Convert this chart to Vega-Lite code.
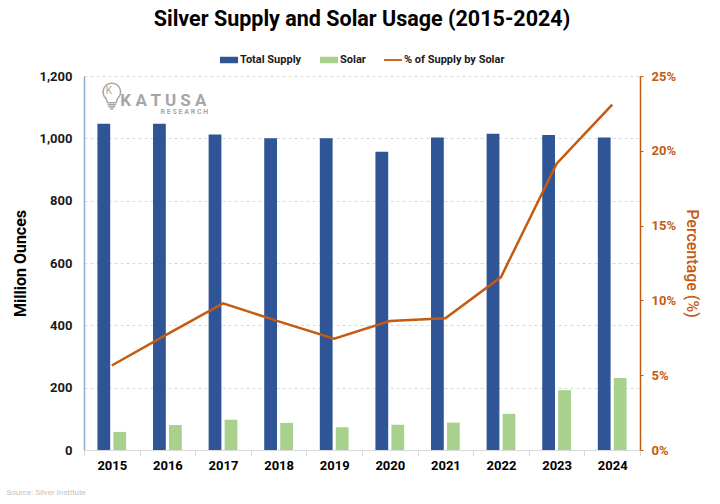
{
  "$schema": "https://vega.github.io/schema/vega-lite/v6.json",
  "width": 556,
  "height": 374,
  "padding": {"left": 6, "top": 8, "right": 14, "bottom": 6},
  "background": "#ffffff",
  "config": {
    "font": "Roboto",
    "view": {"stroke": null}
  },
  "title": {
    "text": "Silver Supply and Solar Usage (2015-2024)",
    "fontSize": 21.5,
    "fontWeight": "bold",
    "font": "Roboto",
    "color": "#000000",
    "anchor": "middle",
    "offset": 21
  },
  "datasets": {
    "bars": [
      {"year": "2015", "series": "Total Supply", "value": 1047},
      {"year": "2015", "series": "Solar", "value": 58},
      {"year": "2016", "series": "Total Supply", "value": 1047},
      {"year": "2016", "series": "Solar", "value": 80},
      {"year": "2017", "series": "Total Supply", "value": 1012},
      {"year": "2017", "series": "Solar", "value": 97},
      {"year": "2018", "series": "Total Supply", "value": 1000},
      {"year": "2018", "series": "Solar", "value": 87},
      {"year": "2019", "series": "Total Supply", "value": 1000},
      {"year": "2019", "series": "Solar", "value": 73},
      {"year": "2020", "series": "Total Supply", "value": 957},
      {"year": "2020", "series": "Solar", "value": 81},
      {"year": "2021", "series": "Total Supply", "value": 1003},
      {"year": "2021", "series": "Solar", "value": 88},
      {"year": "2022", "series": "Total Supply", "value": 1015},
      {"year": "2022", "series": "Solar", "value": 116},
      {"year": "2023", "series": "Total Supply", "value": 1011},
      {"year": "2023", "series": "Solar", "value": 192},
      {"year": "2024", "series": "Total Supply", "value": 1003},
      {"year": "2024", "series": "Solar", "value": 231}
    ],
    "pct": [
      {"year": "2015", "pct": 0.0565},
      {"year": "2016", "pct": 0.0775},
      {"year": "2017", "pct": 0.098},
      {"year": "2018", "pct": 0.086},
      {"year": "2019", "pct": 0.0744},
      {"year": "2020", "pct": 0.0862},
      {"year": "2021", "pct": 0.088},
      {"year": "2022", "pct": 0.1156},
      {"year": "2023", "pct": 0.1914},
      {"year": "2024", "pct": 0.2308}
    ],
    "logo": [
      {"year": "2015", "value": 1140, "label": "K", "part": "bulb"},
      {"year": "2016", "value": 1120, "label": "K A T U S A", "part": "name"},
      {"year": "2016", "value": 1083, "label": "R E S E A R C H", "part": "sub"}
    ]
  },
  "layer": [
    {
      "data": {"name": "bars"},
      "mark": {"type": "bar"},
      "encoding": {
        "x": {
          "field": "year",
          "type": "nominal",
          "scale": {"paddingInner": 0, "paddingOuter": 0},
          "axis": {
            "title": "Source: Silver Institute",
            "titleFontSize": 8,
            "titleFontWeight": "normal",
            "titleColor": "#BFBFBF",
            "titleAlign": "left",
            "titleAnchor": "start",
            "titleBaseline": "middle",
            "titleX": -78,
            "titleY": 42,
            "labelAngle": 0,
            "labelFontSize": 13,
            "labelFontWeight": "bold",
            "labelColor": "#000000",
            "labelPadding": 3,
            "tickBand": "extent",
            "tickColor": "#D9D9D9",
            "tickSize": 6,
            "domainColor": "#D9D9D9",
            "grid": false
          }
        },
        "xOffset": {
          "field": "series",
          "type": "nominal",
          "sort": ["Total Supply", "Solar"],
          "scale": {"domain": ["Total Supply", "Solar"], "paddingInner": 0.2, "paddingOuter": 0.84}
        },
        "y": {
          "field": "value",
          "type": "quantitative",
          "scale": {"domain": [0, 1200], "nice": false},
          "axis": {
            "title": "Million Ounces",
            "titleFontSize": 16,
            "titleFontWeight": "bold",
            "titleColor": "#000000",
            "titlePadding": 10,
            "values": [0, 200, 400, 600, 800, 1000, 1200],
            "format": ",.0f",
            "labelFontSize": 13,
            "labelFontWeight": "bold",
            "labelColor": "#1a1a1a",
            "labelPadding": 12,
            "ticks": false,
            "domainColor": "#8FAADC",
            "domainWidth": 1.5,
            "grid": true,
            "gridColor": "#D9D9D9",
            "gridDash": [3, 3]
          }
        },
        "color": {
          "field": "series",
          "type": "nominal",
          "scale": {
            "domain": ["Total Supply", "Solar", "% of Supply by Solar"],
            "range": ["#2F5597", "#A9D18E", "#C55A11"]
          },
          "legend": {
            "title": null,
            "orient": "none",
            "legendX": 136,
            "legendY": -25,
            "direction": "horizontal",
            "labelFontSize": 11,
            "labelFontWeight": "bold",
            "labelColor": "#1a1a1a",
            "labelOffset": 2,
            "columnPadding": 18,
            "symbolSize": 324,
            "encode": {
              "symbols": {
                "update": {
                  "shape": {"signal": "datum.value === '% of Supply by Solar' ? 'M-1,-0.1H1V0.1H-1Z' : 'M-1,-0.36H1V0.36H-1Z'"},
                  "strokeWidth": {"value": 0}
                }
              }
            }
          }
        }
      }
    },
    {
      "data": {"name": "logo"},
      "transform": [{"filter": "datum.part === 'bulb'"}],
      "mark": {
        "type": "point",
        "filled": false,
        "shape": "M-0.42,0.25 A0.62,0.62 0 1 1 0.42,0.25 L0.3,0.58 L-0.3,0.58 Z M-0.3,0.72 H0.3 M-0.24,0.86 H0.24 M-0.12,1 H0.12",
        "size": 784,
        "color": "#A6A6A6",
        "strokeWidth": 1.5,
        "opacity": 1,
        "dx": -3
      },
      "encoding": {
        "x": {"field": "year", "type": "nominal"},
        "y": {"field": "value", "type": "quantitative", "scale": {"domain": [0, 1200], "nice": false}, "axis": null}
      }
    },
    {
      "data": {"name": "logo"},
      "transform": [{"filter": "datum.part === 'bulb'"}],
      "mark": {"type": "text", "font": "Roboto", "fontSize": 10, "color": "#A6A6A6", "dx": -3, "dy": -4},
      "encoding": {
        "x": {"field": "year", "type": "nominal"},
        "y": {"field": "value", "type": "quantitative", "scale": {"domain": [0, 1200], "nice": false}, "axis": null},
        "text": {"field": "label"}
      }
    },
    {
      "data": {"name": "logo"},
      "transform": [{"filter": "datum.part === 'name'"}],
      "mark": {"type": "text", "font": "Roboto", "fontSize": 17, "fontWeight": "bold", "color": "#A6A6A6", "dx": -4},
      "encoding": {
        "x": {"field": "year", "type": "nominal"},
        "y": {"field": "value", "type": "quantitative", "scale": {"domain": [0, 1200], "nice": false}, "axis": null},
        "text": {"field": "label"}
      }
    },
    {
      "data": {"name": "logo"},
      "transform": [{"filter": "datum.part === 'sub'"}],
      "mark": {"type": "text", "font": "Roboto", "fontSize": 7, "fontWeight": "bold", "color": "#A6A6A6", "dx": 17},
      "encoding": {
        "x": {"field": "year", "type": "nominal"},
        "y": {"field": "value", "type": "quantitative", "scale": {"domain": [0, 1200], "nice": false}, "axis": null},
        "text": {"field": "label"}
      }
    },
    {
      "data": {"name": "pct"},
      "mark": {"type": "line", "color": "#C55A11", "strokeWidth": 2.5},
      "encoding": {
        "x": {"field": "year", "type": "nominal"},
        "y": {
          "field": "pct",
          "type": "quantitative",
          "scale": {"domain": [0, 0.25], "nice": false},
          "axis": {
            "orient": "right",
            "title": "Percentage (%)",
            "titleFontSize": 16,
            "titleFontWeight": 500,
            "titleColor": "#C55A11",
            "titlePadding": 8,
            "values": [0, 0.05, 0.1, 0.15, 0.2, 0.25],
            "format": ".0%",
            "labelFontSize": 13,
            "labelFontWeight": "bold",
            "labelColor": "#C55A11",
            "labelPadding": 8,
            "tickColor": "#C55A11",
            "tickSize": 3,
            "domainColor": "#C55A11",
            "domainWidth": 1.5,
            "grid": false
          }
        }
      }
    }
  ],
  "resolve": {"scale": {"y": "independent"}}
}
